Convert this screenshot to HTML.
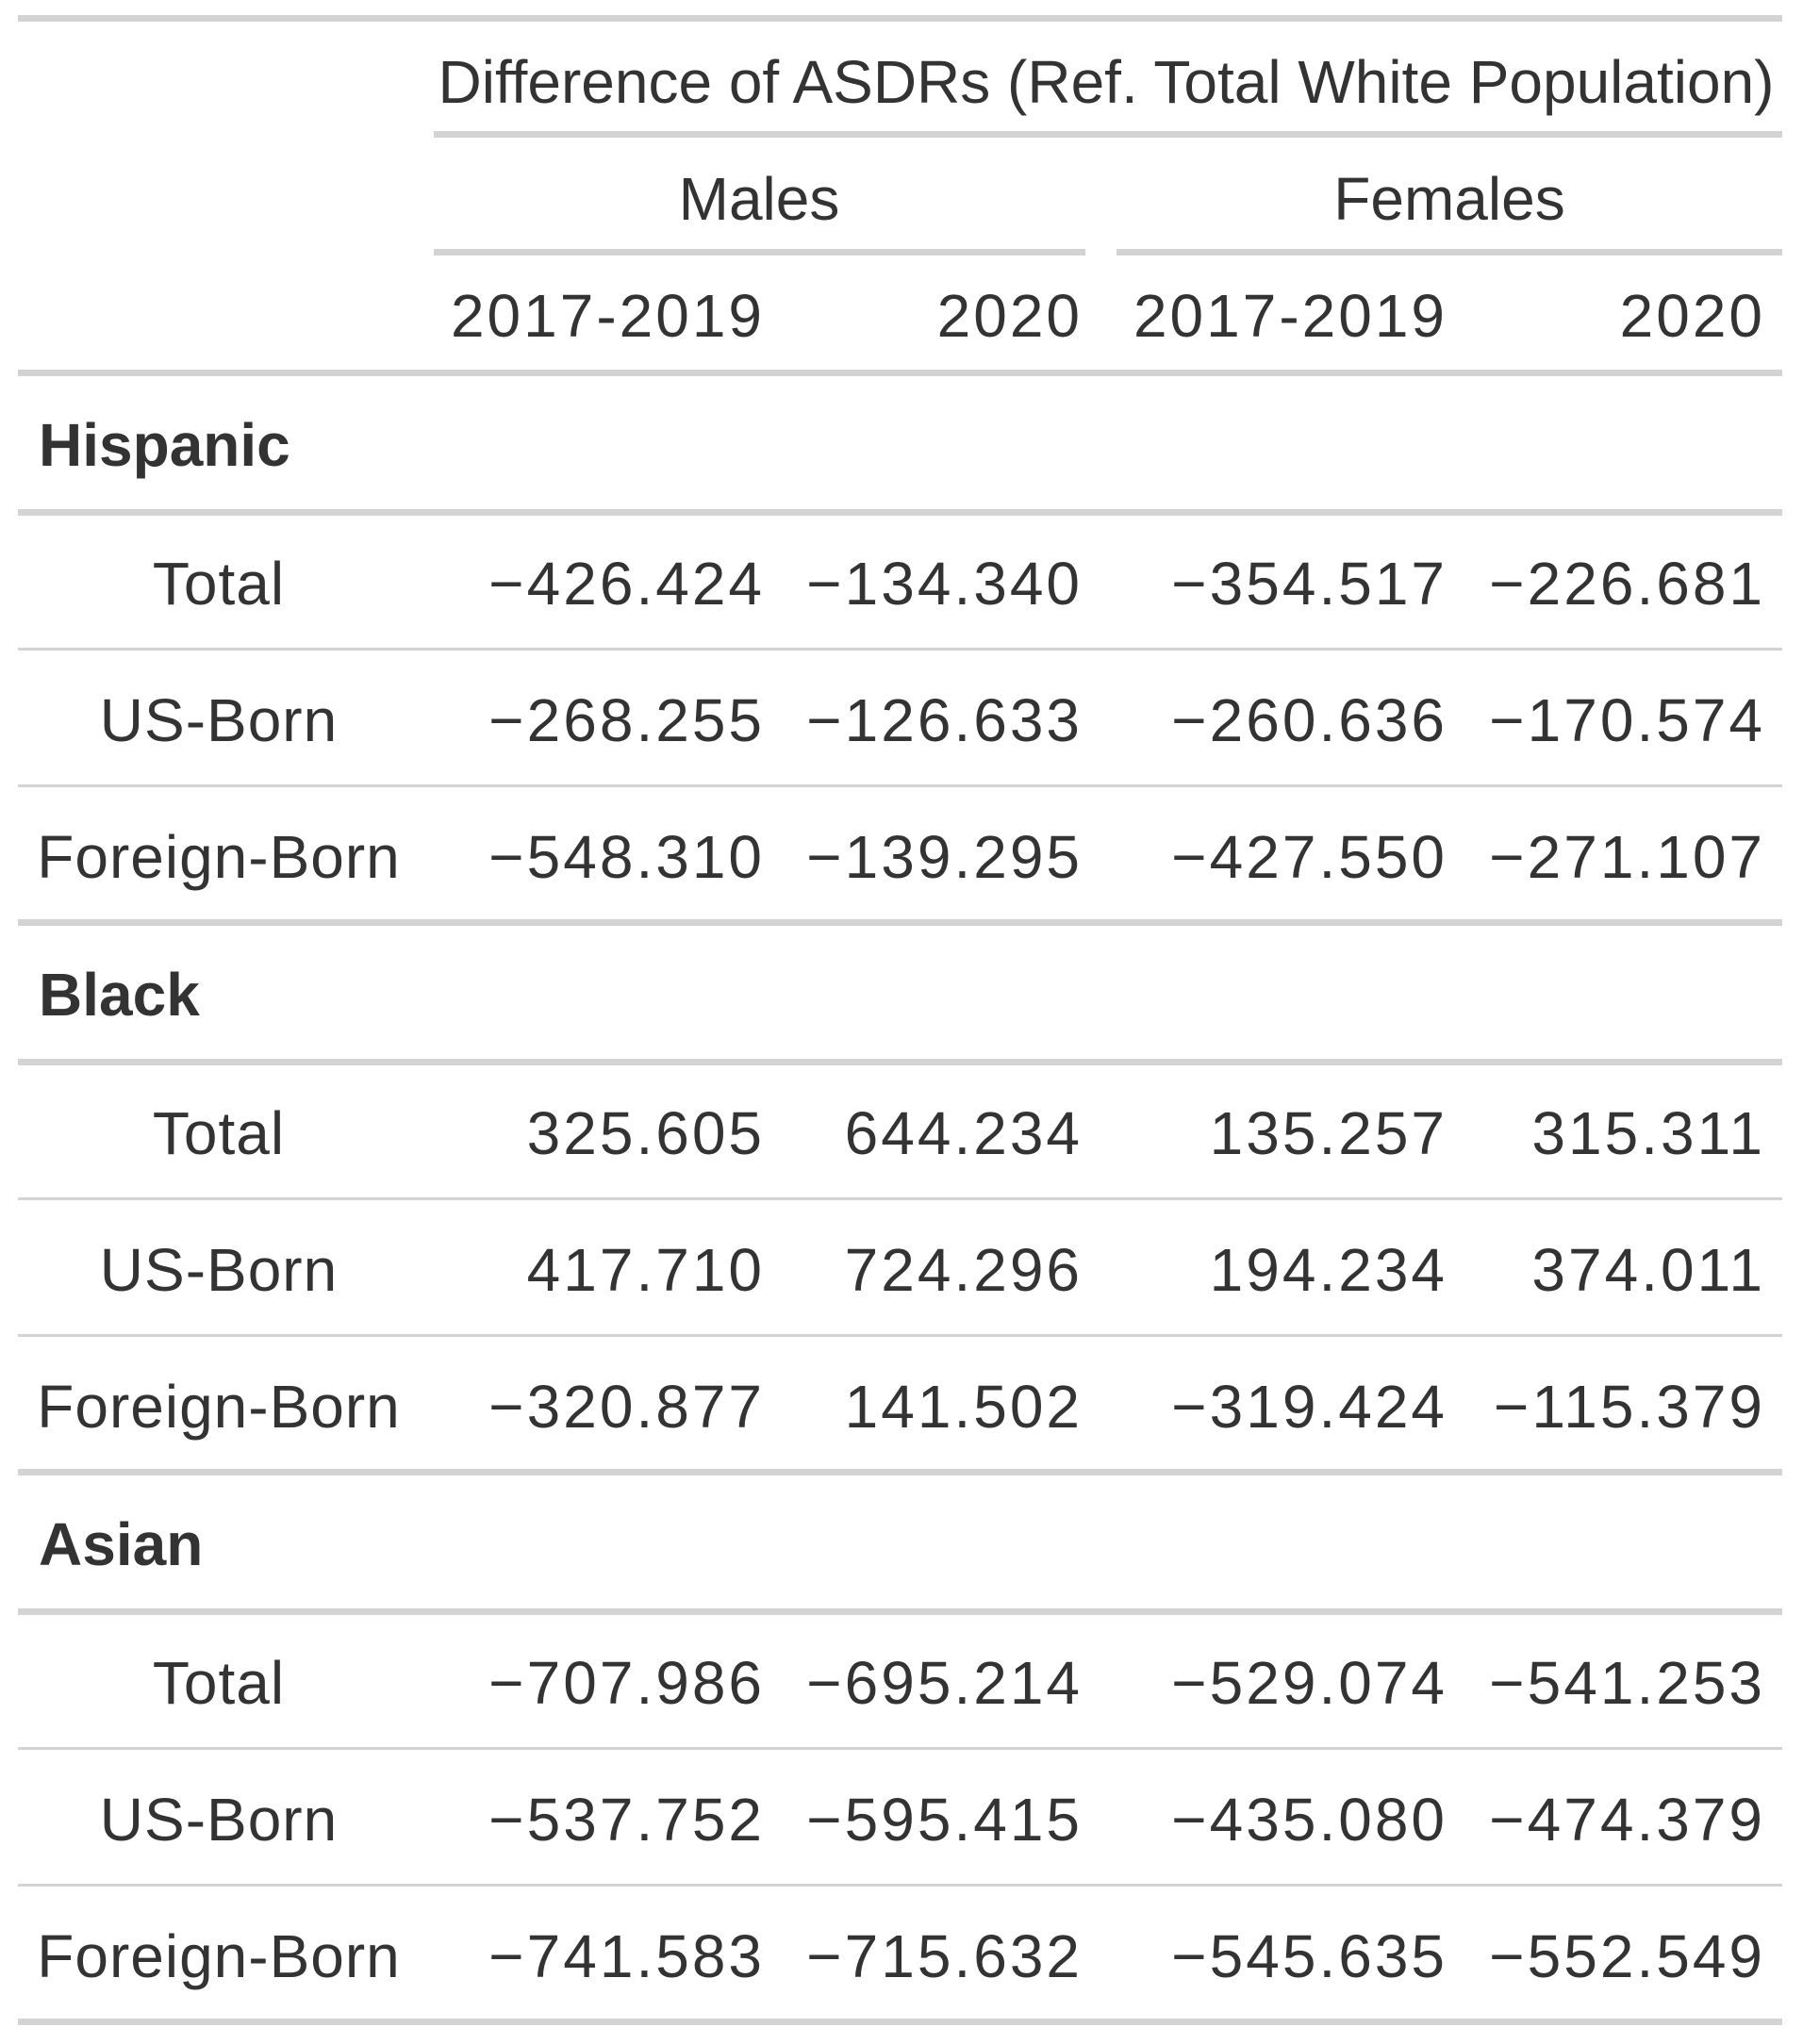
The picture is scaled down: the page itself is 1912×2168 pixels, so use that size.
<!DOCTYPE html>
<html><head><meta charset="utf-8"><style>
body{margin:0;background:#fff;width:1912px;height:2168px;position:relative;overflow:hidden;font-family:"Liberation Sans",sans-serif;color:#333;}
.t{position:absolute;font-size:64px;line-height:80px;white-space:nowrap;}
.n{letter-spacing:3px;}
.l{letter-spacing:1px;}
.ln{position:absolute;background:#d3d3d3;}
</style></head><body>
<div id="root"></div>
<script>
const groups=["Hispanic","Black","Asian"];
const subs=["Total","US-Born","Foreign-Born"];
const cols=["2017-2019","2020","2017-2019","2020"];
const hispanic=[["−426.424","−134.340","−354.517","−226.681"],["−268.255","−126.633","−260.636","−170.574"],["−548.310","−139.295","−427.550","−271.107"]];
const black=[["325.605","644.234","135.257","315.311"],["417.710","724.296","194.234","374.011"],["−320.877","141.502","−319.424","−115.379"]];
const asian=[["−707.986","−695.214","−529.074","−541.253"],["−537.752","−595.415","−435.080","−474.379"],["−741.583","−715.632","−545.635","−552.549"]];
const data=[hispanic,black,asian];
const B=document.body;
function line(x,y,w,h,n){const d=document.createElement('div');d.className='ln';


d.style.cssText=`left:${x}px;top:${y-h/2}px;width:${w}px;height:${h}px`;B.appendChild(d);}
function txt(s,cy,opts,n){const d=document.createElement('div');d.className='t'+(opts.cls?' '+opts.cls:'');d.textContent=s;


let st=`top:${cy-37}px;`;
if(opts.right!==undefined)st+=`right:${1912-opts.right}px;`;
if(opts.left!==undefined)st+=`left:${opts.left}px;`;
if(opts.center!==undefined)st+=`left:${opts.center}px;transform:translateX(-50%);`;
if(opts.bold)st+='font-weight:bold;';
d.style.cssText=st;B.appendChild(d);}
const rights=[811,1148,1535,1872];
line(19,19,1871,7,'top-rule');
txt("Difference of ASDRs (Ref. Total White Population)",84,{center:1173},'spanner-title');
line(460,142,1430,7,'spanner-rule');
txt("Males",208,{center:805},'males-header');
txt("Females",208,{center:1537},'females-header');
line(460,267,691,7,'males-rule');
line(1184,267,706,7,'females-rule');
cols.forEach((c,i)=>txt(c,332,{right:rights[i],cls:'n'},'col-header-'+i));
line(19,395,1871,7,'header-bottom-rule');
const groupTop=[395,978,1561];
groups.forEach((g,gi)=>{
  const y0=groupTop[gi];
  txt(g,y0+74,{left:41,bold:true},'group-'+g.toLowerCase());
  line(19,y0+148,1871,7,'group-rule-'+gi);
  let y=y0+148;
  subs.forEach((s,si)=>{
    const cy=y+72.5;
    txt(s,cy,{center:232,cls:'l'},'row-label-'+g.toLowerCase()+'-'+si);
    data[gi][si].forEach((v,ci)=>txt(v,cy,{right:rights[ci],cls:'n'},'cell-'+g.toLowerCase()+'-'+si+'-'+ci));
    y+=145;
    if(si<2)line(19,y,1871,3,'row-rule');
  });
  line(19,y,1871,7,'group-end-rule');
});
</script>
</body></html>
